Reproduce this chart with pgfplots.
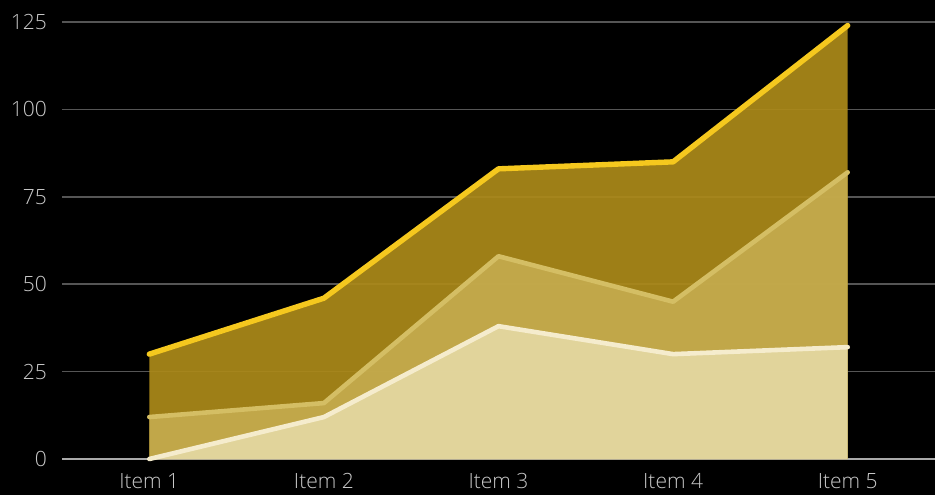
\documentclass[border=0pt]{standalone}
\usepackage{pgfplots}
\pgfplotsset{compat=1.18}
\usepackage{fontspec}
\setmainfont{Open Sans}[UprightFont={* Light}]
\definecolor{gridc}{RGB}{85,85,85}
\definecolor{axc}{RGB}{170,170,170}
\definecolor{tickc}{RGB}{200,200,200}
\definecolor{topfill}{RGB}{172,138,25}
\definecolor{midfill}{RGB}{197,171,78}
\definecolor{botfill}{RGB}{228,216,163}
\definecolor{topline}{RGB}{245,200,30}
\definecolor{midline}{RGB}{212,190,100}
\definecolor{botline}{RGB}{245,236,205}
\begin{document}
\begin{tikzpicture}
\fill[black] (0,0) rectangle (467.5pt,247.5pt);
\useasboundingbox (0,0) rectangle (467.5pt,247.5pt);
\begin{axis}[
  at={(31pt,18pt)}, anchor=south west,
  scale only axis, width=436.5pt, height=218.5pt,
  xmin=0.5, xmax=5.5, ymin=0, ymax=125,
  clip=false,
  axis x line=bottom, axis y line=left,
  x axis line style={draw=axc, line width=0.8pt, -},
  y axis line style={draw=none},
  xtick={1,2,3,4,5},
  xticklabels={Item 1,Item 2,Item 3,Item 4,Item 5},
  ytick={0,25,50,75,100,125},
  /pgf/number format/assume math mode=true,
  major tick length=0pt,
  ymajorgrids,
  major grid style={draw=gridc, line width=0.75pt},
  tick label style={font=\fontsize{10.5}{12}\selectfont, text=tickc},
  yticklabel style={xshift=-4pt},
  xticklabel style={yshift=-3.5pt},
]
\addplot[draw=none, fill=topfill, fill opacity=0.92] coordinates {(1,30) (2,46) (3,83) (4,85) (5,124)} \closedcycle;
\addplot[draw=topline, line width=2.7pt, line join=round, line cap=round] coordinates {(1,30) (2,46) (3,83) (4,85) (5,124)};
\addplot[draw=none, fill=midfill, fill opacity=0.92] coordinates {(1,12) (2,16) (3,58) (4,45) (5,82)} \closedcycle;
\addplot[draw=midline, line width=2.3pt, line join=round, line cap=round] coordinates {(1,12) (2,16) (3,58) (4,45) (5,82)};
\addplot[draw=none, fill=botfill, fill opacity=0.92] coordinates {(1,0) (2,12) (3,38) (4,30) (5,32)} \closedcycle;
\addplot[draw=botline, line width=2.3pt, line join=round, line cap=round] coordinates {(1,0) (2,12) (3,38) (4,30) (5,32)};
\end{axis}
\end{tikzpicture}
\end{document}
